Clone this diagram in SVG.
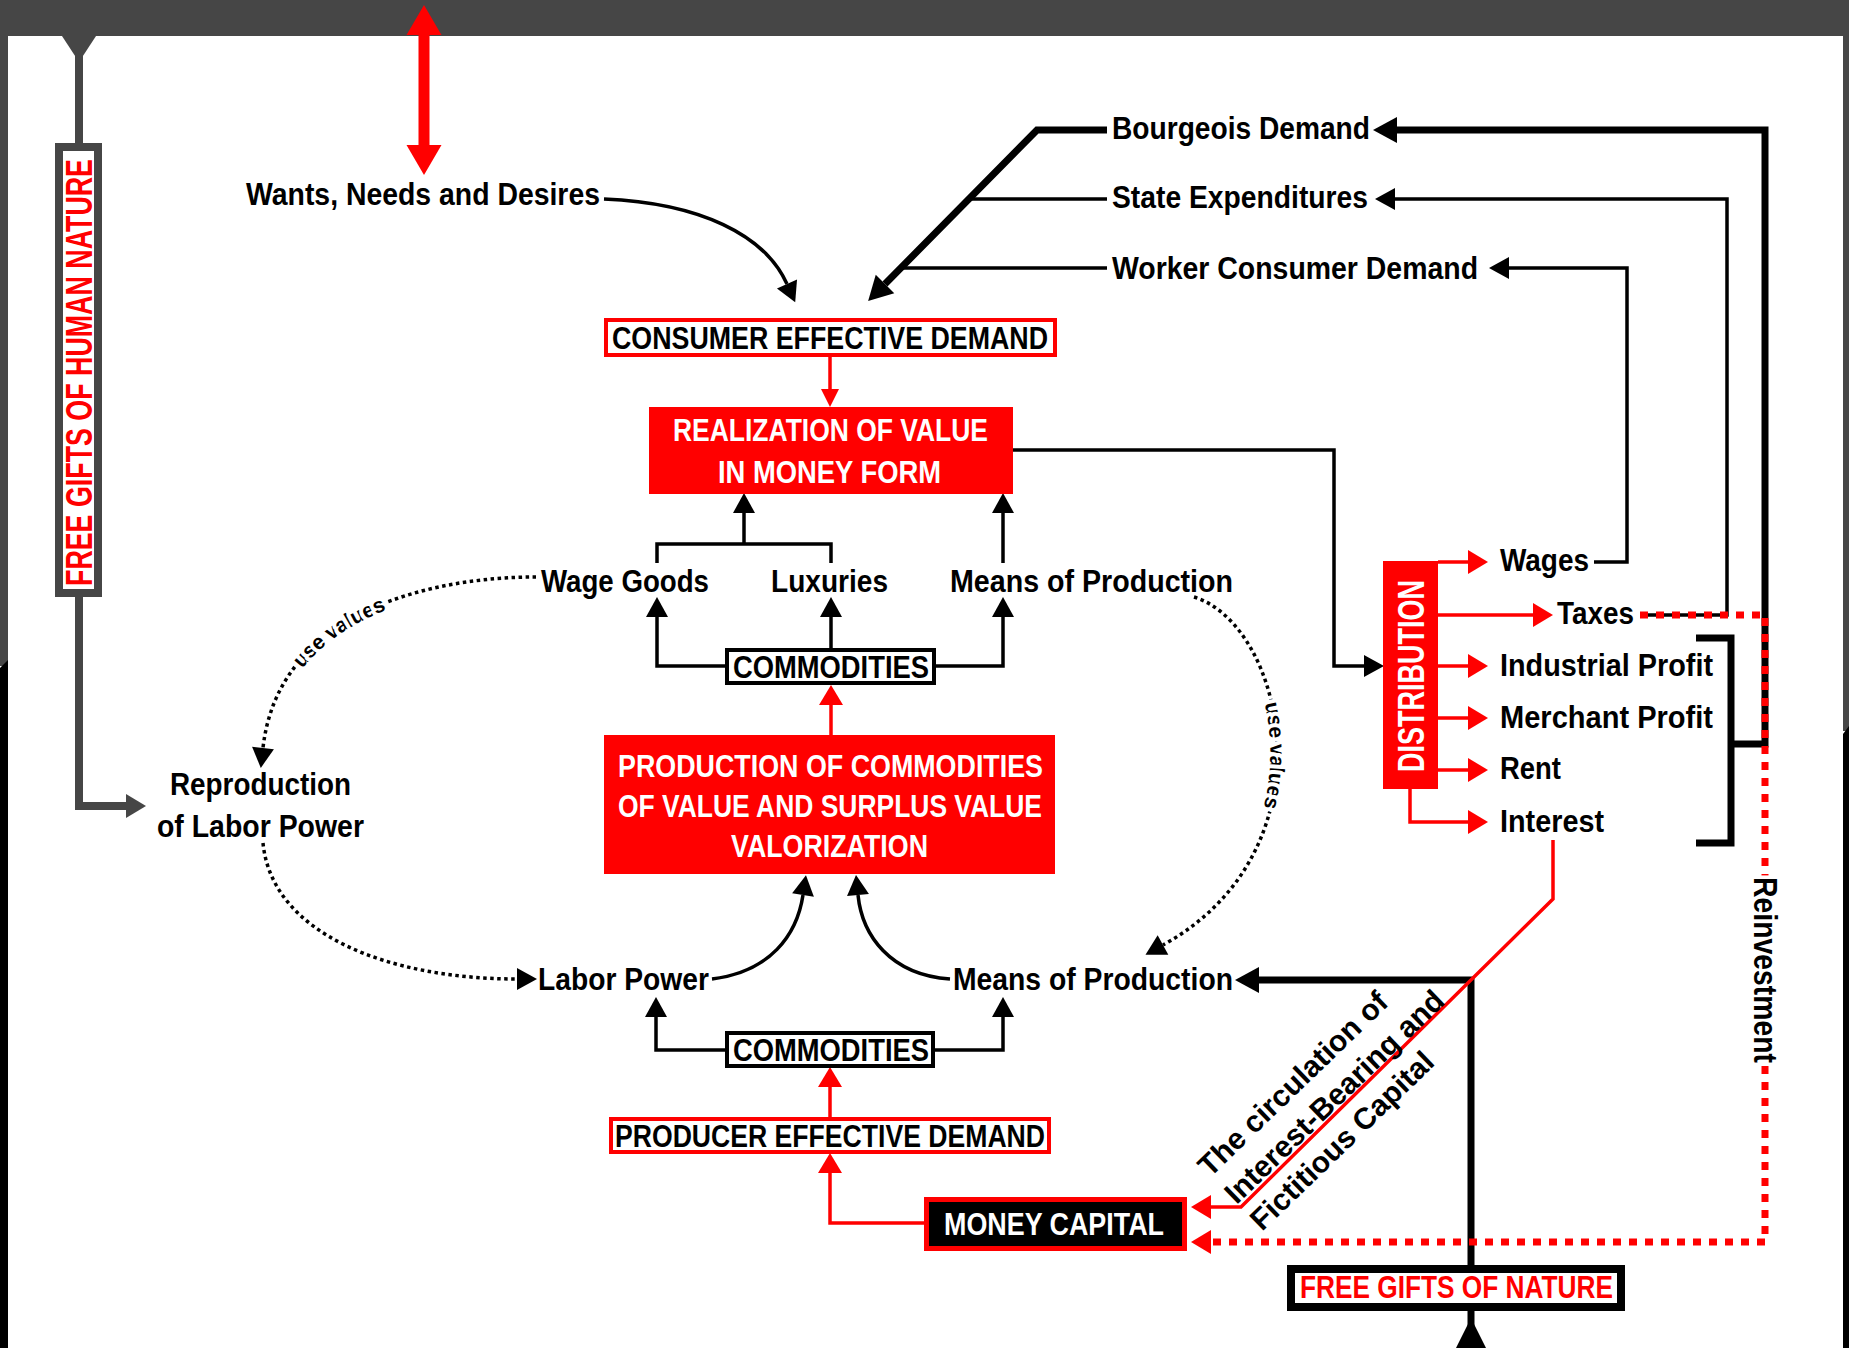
<svg xmlns="http://www.w3.org/2000/svg" width="1849" height="1348" viewBox="0 0 1849 1348">
<style>
.t{font-family:"Liberation Sans",Arial,sans-serif;font-weight:bold;font-size:32px;fill:#000}
.w{fill:#fff}
.r{fill:#ff0000}
.sm{font-size:21px}
.halo{paint-order:stroke;stroke:#fff;stroke-width:8px;stroke-linejoin:round}
.ln{fill:none;stroke:#000;stroke-width:3.5}
.thk{fill:none;stroke:#000;stroke-width:7}
.rl{fill:none;stroke:#ff0000;stroke-width:3.5}
.dot{fill:none;stroke:#000;stroke-width:3.5;stroke-dasharray:3.5 3.5}
.rdot{fill:none;stroke:#ff0000;stroke-width:7;stroke-dasharray:8 8}
.gl{fill:none;stroke:#464646;stroke-width:8}
</style>
<defs>
<marker id="mB" markerUnits="userSpaceOnUse" markerWidth="20" markerHeight="22" refX="0" refY="11" orient="auto" overflow="visible"><path d="M0,0 L20,11 L0,22 z" fill="#000"/></marker>
<marker id="mBL" markerUnits="userSpaceOnUse" markerWidth="24" markerHeight="26" refX="0" refY="13" orient="auto" overflow="visible"><path d="M0,0 L24,13 L0,26 z" fill="#000"/></marker>
<marker id="mR" markerUnits="userSpaceOnUse" markerWidth="20" markerHeight="24" refX="0" refY="12" orient="auto" overflow="visible"><path d="M0,0 L20,12 L0,24 z" fill="#ff0000"/></marker>
<marker id="mRs" markerUnits="userSpaceOnUse" markerWidth="18" markerHeight="18" refX="0" refY="9" orient="auto" overflow="visible"><path d="M0,0 L18,9 L0,18 z" fill="#ff0000"/></marker>
<marker id="mRL" markerUnits="userSpaceOnUse" markerWidth="30" markerHeight="35" refX="0" refY="17.5" orient="auto-start-reverse" overflow="visible"><path d="M0,0 L30,17.5 L0,35 z" fill="#ff0000"/></marker>
<marker id="mG" markerUnits="userSpaceOnUse" markerWidth="20" markerHeight="24" refX="0" refY="12" orient="auto" overflow="visible"><path d="M0,0 L20,12 L0,24 z" fill="#464646"/></marker>
<path id="pUseL" d="M263,748 C278,612 430,577 536,577"/>
<path id="pUseR" d="M1194,597 C1285,625 1335,850 1163,945"/>
</defs>

<g id="frame">
<rect x="0" y="0" width="1849" height="1348" fill="#fff"/>
<rect x="0" y="0" width="1849" height="36" fill="#464646"/>
<rect x="0" y="36" width="8" height="630" fill="#464646"/>
<polygon points="0,668 8,660 8,1348 0,1348" fill="#000"/>
<rect x="1843" y="36" width="6" height="695" fill="#464646"/>
<polygon points="1843,734 1849,726 1849,1348 1843,1348" fill="#000"/>
</g>

<g id="connectors">
<path d="M424,35 V145" fill="none" stroke="#ff0000" stroke-width="11" marker-start="url(#mRL)" marker-end="url(#mRL)"/>
<polygon points="62,36 96,36 79,62" fill="#464646"/>
<path class="gl" d="M79,36 V147"/>
<path class="gl" d="M79,597 V806 H126" marker-end="url(#mG)"/>
<path class="ln" d="M604,199 C700,203 765,235 787,284" marker-end="url(#mB)"/>
<path class="thk" d="M1107,130 H1037 L885,284" marker-end="url(#mBL)"/>
<path class="ln" d="M1107,199 H969"/>
<path class="ln" d="M1107,268 H900"/>
<path class="thk" d="M1731,744 H1765 V130 H1397" marker-end="url(#mBL)"/>
<path class="ln" d="M1640,615 H1727 V199 H1395" marker-end="url(#mB)"/>
<path class="ln" d="M1594,562 H1627 V268 H1509" marker-end="url(#mB)"/>
<path class="thk" d="M1696,638 H1731 V843 H1696"/>
<path class="ln" d="M1013,450 H1334 V666 H1364" marker-end="url(#mB)"/>
<path class="rl" d="M830,357 V389" marker-end="url(#mRs)"/>
<path class="ln" d="M657,563 V544 H831 V563"/>
<path class="ln" d="M744,544 V513" marker-end="url(#mB)"/>
<path class="ln" d="M1003,563 V513" marker-end="url(#mB)"/>
<path class="ln" d="M725,666 H657 V617" marker-end="url(#mB)"/>
<path class="ln" d="M831,648 V617" marker-end="url(#mB)"/>
<path class="ln" d="M936,666 H1003 V617" marker-end="url(#mB)"/>
<path class="rl" d="M831,735 V705" marker-end="url(#mR)"/>
<path class="ln" d="M712,979 C770,972 797,935 803,895" marker-end="url(#mB)"/>
<path class="ln" d="M950,979 C890,975 862,935 858,895" marker-end="url(#mB)"/>
<path class="ln" d="M725,1050 H656 V1017" marker-end="url(#mB)"/>
<path class="ln" d="M935,1050 H1003 V1017" marker-end="url(#mB)"/>
<path class="rl" d="M830,1117 V1087" marker-end="url(#mR)"/>
<path class="rl" d="M924,1223 H830 V1173" marker-end="url(#mR)"/>
<path class="dot" d="M536,577 C430,577 278,612 263,748" marker-end="url(#mB)"/>
<path class="dot" d="M263,843 C272,935 390,979 517,979" marker-end="url(#mB)"/>
<path class="dot" d="M1194,597 C1285,625 1335,850 1163,945" marker-end="url(#mB)"/>
<path class="rl" d="M1438,562 H1468" marker-end="url(#mR)"/>
<path class="rl" d="M1438,615 H1533" marker-end="url(#mR)"/>
<path class="rl" d="M1438,666 H1468" marker-end="url(#mR)"/>
<path class="rl" d="M1438,718 H1468" marker-end="url(#mR)"/>
<path class="rl" d="M1438,770 H1468" marker-end="url(#mR)"/>
<path class="rl" d="M1410,789 V822 H1468" marker-end="url(#mR)"/>
<path class="thk" d="M1471,1265 V980 H1259" marker-end="url(#mBL)"/>
<path class="thk" d="M1471,1311 V1330"/>
<polygon points="1456,1348 1486,1348 1471,1318" fill="#000"/>
<path class="rl" d="M1553,840 V899 L1241,1207 H1211" marker-end="url(#mR)"/>
<path class="rdot" d="M1640,615 H1765 V1242 H1211"/>
<path d="M1212,1242 H1211" fill="none" stroke="none" marker-end="url(#mR)"/>
</g>

<g id="n-wants"><text class="t" x="246" y="205" textLength="354" lengthAdjust="spacingAndGlyphs">Wants, Needs and Desires</text></g>
<g id="n-bourgeois"><text class="t" x="1112" y="139" textLength="258" lengthAdjust="spacingAndGlyphs">Bourgeois Demand</text></g>
<g id="n-state"><text class="t" x="1112" y="208" textLength="256" lengthAdjust="spacingAndGlyphs">State Expenditures</text></g>
<g id="n-worker"><text class="t" x="1112" y="279" textLength="366" lengthAdjust="spacingAndGlyphs">Worker Consumer Demand</text></g>

<g id="n-consumer">
<rect x="606" y="320" width="449" height="35" fill="#fff" stroke="#ff0000" stroke-width="4"/>
<text class="t" x="612" y="349" textLength="436" lengthAdjust="spacingAndGlyphs">CONSUMER EFFECTIVE DEMAND</text>
</g>
<g id="n-realization">
<rect x="649" y="407" width="364" height="87" fill="#ff0000"/>
<text class="t w" x="673" y="441" textLength="315" lengthAdjust="spacingAndGlyphs">REALIZATION OF VALUE</text>
<text class="t w" x="718" y="483" textLength="223" lengthAdjust="spacingAndGlyphs">IN MONEY FORM</text>
</g>
<g id="n-wagegoods"><text class="t" x="541" y="592" textLength="168" lengthAdjust="spacingAndGlyphs">Wage Goods</text></g>
<g id="n-luxuries"><text class="t" x="771" y="592" textLength="117" lengthAdjust="spacingAndGlyphs">Luxuries</text></g>
<g id="n-means1"><text class="t" x="950" y="592" textLength="283" lengthAdjust="spacingAndGlyphs">Means of Production</text></g>
<g id="n-commodities1">
<rect x="727" y="650" width="207" height="33" fill="#fff" stroke="#000" stroke-width="4"/>
<text class="t" x="733" y="678" textLength="196" lengthAdjust="spacingAndGlyphs">COMMODITIES</text>
</g>
<g id="n-production">
<rect x="604" y="735" width="451" height="139" fill="#ff0000"/>
<text class="t w" x="618" y="777" textLength="425" lengthAdjust="spacingAndGlyphs">PRODUCTION OF COMMODITIES</text>
<text class="t w" x="618" y="817" textLength="424" lengthAdjust="spacingAndGlyphs">OF VALUE AND SURPLUS VALUE</text>
<text class="t w" x="731" y="857" textLength="197" lengthAdjust="spacingAndGlyphs">VALORIZATION</text>
</g>
<g id="n-reproduction">
<text class="t" x="170" y="795" textLength="181" lengthAdjust="spacingAndGlyphs">Reproduction</text>
<text class="t" x="157" y="837" textLength="207" lengthAdjust="spacingAndGlyphs">of Labor Power</text>
</g>
<g id="n-laborpower"><text class="t" x="538" y="990" textLength="171" lengthAdjust="spacingAndGlyphs">Labor Power</text></g>
<g id="n-means2"><text class="t" x="953" y="990" textLength="280" lengthAdjust="spacingAndGlyphs">Means of Production</text></g>
<g id="n-commodities2">
<rect x="727" y="1033" width="206" height="33" fill="#fff" stroke="#000" stroke-width="4"/>
<text class="t" x="733" y="1061" textLength="196" lengthAdjust="spacingAndGlyphs">COMMODITIES</text>
</g>
<g id="n-producer">
<rect x="611" y="1119" width="438" height="33" fill="#fff" stroke="#ff0000" stroke-width="4"/>
<text class="t" x="615" y="1147" textLength="430" lengthAdjust="spacingAndGlyphs">PRODUCER EFFECTIVE DEMAND</text>
</g>
<g id="n-money">
<rect x="926.5" y="1199.5" width="258" height="49" fill="#000" stroke="#ff0000" stroke-width="5"/>
<text class="t w" x="944" y="1235" textLength="220" lengthAdjust="spacingAndGlyphs">MONEY CAPITAL</text>
</g>
<g id="n-nature">
<rect x="1291" y="1269" width="330" height="38" fill="#fff" stroke="#000" stroke-width="8"/>
<text class="t r" x="1300" y="1298" textLength="313" lengthAdjust="spacingAndGlyphs">FREE GIFTS OF NATURE</text>
</g>
<g id="n-humannature">
<rect x="59" y="147" width="39" height="446" fill="#fff" stroke="#464646" stroke-width="8"/>
<text class="t r" transform="translate(92,586) rotate(-90)" x="0" y="0" style="font-size:37px" textLength="427" lengthAdjust="spacingAndGlyphs">FREE GIFTS OF HUMAN NATURE</text>
</g>
<g id="n-distribution">
<rect x="1383" y="561" width="55" height="228" fill="#ff0000"/>
<text class="t w" transform="translate(1424,772) rotate(-90)" x="0" y="0" style="font-size:36px" textLength="192" lengthAdjust="spacingAndGlyphs">DISTRIBUTION</text>
</g>
<g id="n-wages"><text class="t" x="1500" y="571" textLength="89" lengthAdjust="spacingAndGlyphs">Wages</text></g>
<g id="n-taxes"><text class="t" x="1557" y="624" textLength="77" lengthAdjust="spacingAndGlyphs">Taxes</text></g>
<g id="n-industrial"><text class="t" x="1500" y="676" textLength="213" lengthAdjust="spacingAndGlyphs">Industrial Profit</text></g>
<g id="n-merchant"><text class="t" x="1500" y="728" textLength="213" lengthAdjust="spacingAndGlyphs">Merchant Profit</text></g>
<g id="n-rent"><text class="t" x="1500" y="779" textLength="61" lengthAdjust="spacingAndGlyphs">Rent</text></g>
<g id="n-interest"><text class="t" x="1500" y="832" textLength="104" lengthAdjust="spacingAndGlyphs">Interest</text></g>

<g id="labels">
<text class="t sm halo" dy="7"><textPath href="#pUseL" startOffset="41%" text-anchor="middle">use values</textPath></text>
<text class="t sm halo" dy="7"><textPath href="#pUseR" startOffset="45%" text-anchor="middle">use values</textPath></text>
<text class="t halo" transform="translate(1754,877) rotate(90)" x="0" y="0" style="font-size:34px" textLength="186" lengthAdjust="spacingAndGlyphs">Reinvestment</text>
<g transform="translate(1210,1178) rotate(-44)">
<text class="t" x="0" y="0" style="font-size:30px">The circulation of</text>
<text class="t" x="0" y="38" style="font-size:30px">Interest-Bearing and</text>
<text class="t" x="0" y="75" style="font-size:30px">Fictitious Capital</text>
</g>
</g>
</svg>
